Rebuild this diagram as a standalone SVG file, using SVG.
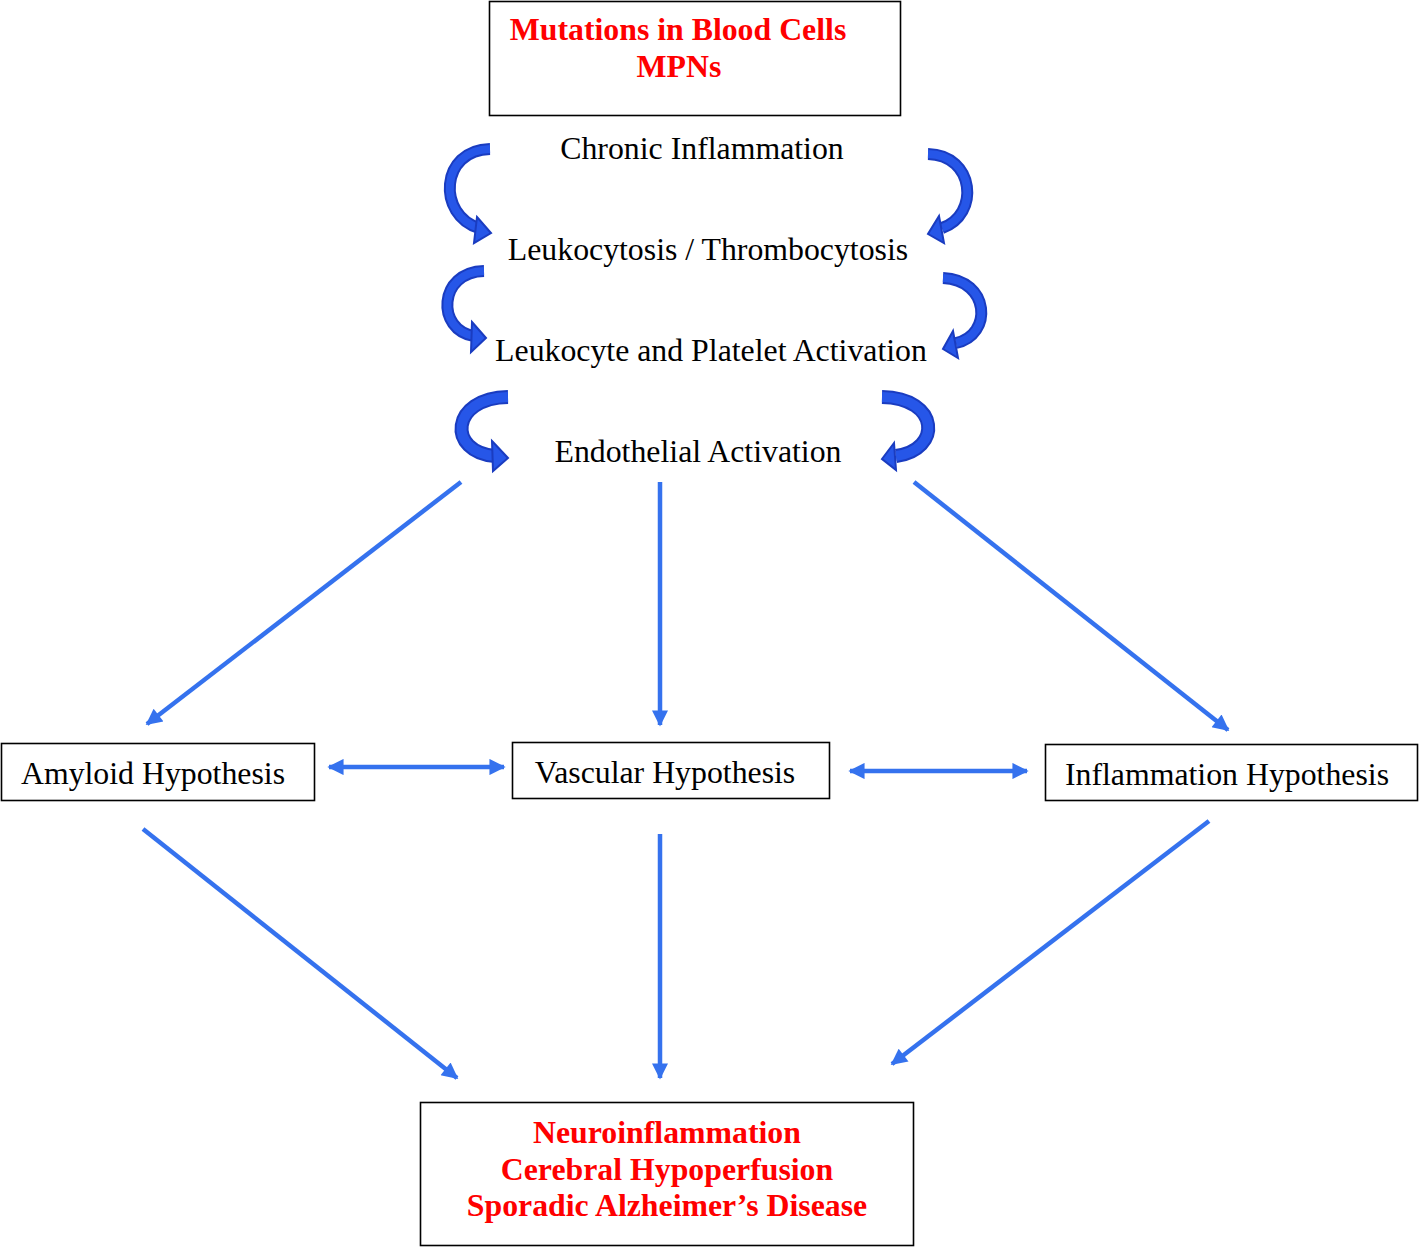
<svg xmlns="http://www.w3.org/2000/svg" width="1419" height="1247" viewBox="0 0 1419 1247">
<defs>
<style>
.box{fill:#fff;stroke:#000;stroke-width:1.6}
.t{font-family:"Liberation Serif","Times New Roman",serif;font-size:31.8px;fill:#000;text-anchor:middle}
.r{font-family:"Liberation Serif","Times New Roman",serif;font-size:31.8px;font-weight:bold;fill:#ff0000;text-anchor:middle}
.ln{stroke:#3572ee;stroke-width:4.5;fill:none}
.cOut{stroke:#1a3cc0;fill:none;stroke-linecap:butt}
.cIn{stroke:#2656e8;fill:none;stroke-linecap:butt}
.hd{fill:#2656e8;stroke:#1a3cc0;stroke-width:2;stroke-linejoin:miter}
</style>
<marker id="ah" viewBox="0 0 10 10" refX="9" refY="5" markerWidth="4.4" markerHeight="3.6" orient="auto-start-reverse" markerUnits="strokeWidth">
<path d="M0,0 L10,5 L0,10 z" fill="#3572ee"/>
</marker>
</defs>
<rect width="1419" height="1247" fill="#fff"/>

<g id="node-mutations">
<rect class="box" x="489.5" y="1.5" width="411" height="114"/>
<text class="r" x="678" y="40">Mutations in Blood Cells</text>
<text class="r" x="679" y="77">MPNs</text>
</g>
<g id="node-chronic"><text class="t" x="702" y="159">Chronic Inflammation</text></g>
<g id="node-leukocytosis"><text class="t" x="708" y="260">Leukocytosis / Thrombocytosis</text></g>
<g id="node-activation"><text class="t" x="711" y="361">Leukocyte and Platelet Activation</text></g>
<g id="node-endothelial"><text class="t" x="698" y="462">Endothelial Activation</text></g>

<g id="node-amyloid">
<rect class="box" x="1.5" y="743.5" width="313" height="57"/>
<text class="t" x="153" y="784">Amyloid Hypothesis</text>
</g>
<g id="node-vascular">
<rect class="box" x="512.5" y="742.5" width="317" height="56"/>
<text class="t" x="665" y="783">Vascular Hypothesis</text>
</g>
<g id="node-inflammation">
<rect class="box" x="1045.5" y="744.5" width="372" height="56"/>
<text class="t" x="1227" y="785">Inflammation Hypothesis</text>
</g>
<g id="node-outcome">
<rect class="box" x="420.5" y="1102.5" width="493" height="143"/>
<text class="r" x="667" y="1143">Neuroinflammation</text>
<text class="r" x="667" y="1180">Cerebral Hypoperfusion</text>
<text class="r" x="667" y="1216">Sporadic Alzheimer’s Disease</text>
</g>

<g id="connectors">
<g id="curved">
<path class="cOut" stroke-width="12" d="M 490 149 C 440 150, 437 215, 479 228"/>
<path class="cIn" stroke-width="8" d="M 490 149 C 440 150, 437 215, 479 228"/>
<polygon class="hd" points="477,217 491,233 474,243"/>

<path class="cOut" stroke-width="12" d="M 928 154 C 975 155, 980 215, 942 228"/>
<path class="cIn" stroke-width="8" d="M 928 154 C 975 155, 980 215, 942 228"/>
<polygon class="hd" points="939,216 928,234 944,243"/>

<path class="cOut" stroke-width="12" d="M 484 271 C 438 272, 436 330, 474 336"/>
<path class="cIn" stroke-width="8" d="M 484 271 C 438 272, 436 330, 474 336"/>
<polygon class="hd" points="472,322 486,338 471,352"/>

<path class="cOut" stroke-width="12" d="M 943 278 C 990 280, 993 335, 956 343"/>
<path class="cIn" stroke-width="8" d="M 943 278 C 990 280, 993 335, 956 343"/>
<polygon class="hd" points="953,331 943,349 958,358"/>

<path class="cOut" stroke-width="14" d="M 508 397 C 450 398, 447 452, 495 456"/>
<path class="cIn" stroke-width="10" d="M 508 397 C 450 398, 447 452, 495 456"/>
<polygon class="hd" points="492,441 508,458 493,471"/>

<path class="cOut" stroke-width="14" d="M 882 397 C 940 398, 942 450, 896 456"/>
<path class="cIn" stroke-width="10" d="M 882 397 C 940 398, 942 450, 896 456"/>
<polygon class="hd" points="894,443 882,459 896,470"/>
</g>
<line class="ln" x1="461" y1="482" x2="147" y2="724" marker-end="url(#ah)"/>
<line class="ln" x1="660" y1="482" x2="660" y2="725" marker-end="url(#ah)"/>
<line class="ln" x1="914" y1="482" x2="1228" y2="730" marker-end="url(#ah)"/>
<line class="ln" x1="329" y1="767" x2="504" y2="767" marker-start="url(#ah)" marker-end="url(#ah)"/>
<line class="ln" x1="850" y1="771" x2="1027" y2="771" marker-start="url(#ah)" marker-end="url(#ah)"/>
<line class="ln" x1="143" y1="829" x2="457" y2="1078" marker-end="url(#ah)"/>
<line class="ln" x1="660" y1="834" x2="660" y2="1078" marker-end="url(#ah)"/>
<line class="ln" x1="1209" y1="821" x2="892" y2="1064" marker-end="url(#ah)"/>
</g>
</svg>
